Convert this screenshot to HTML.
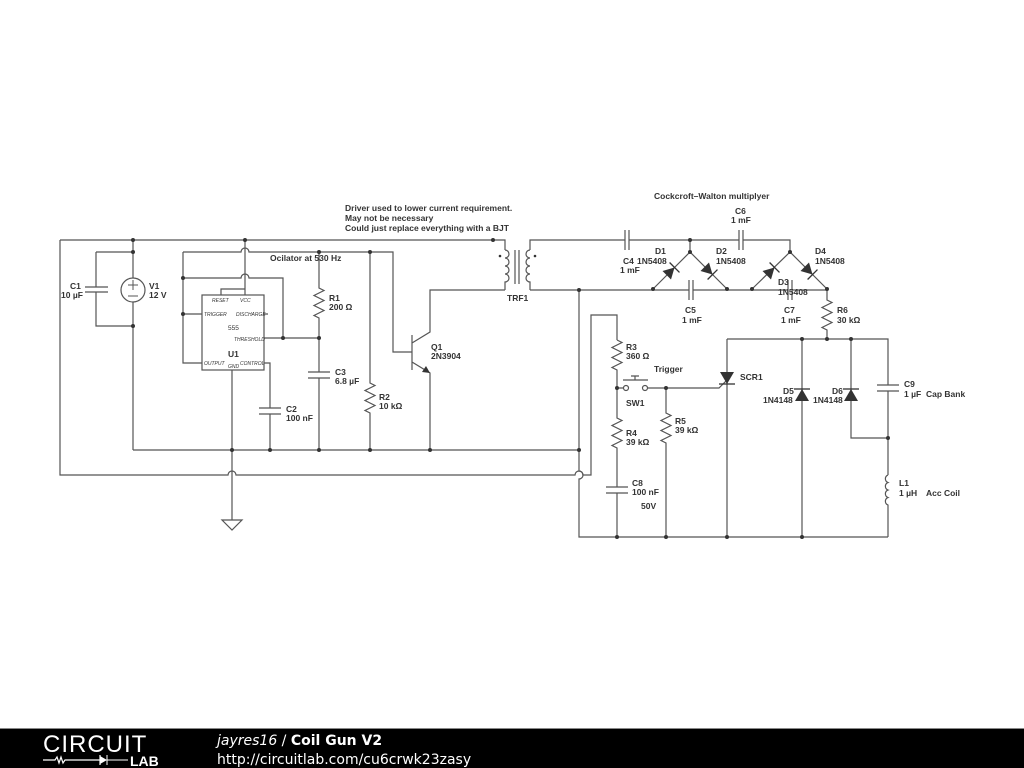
<!DOCTYPE html>
<html><head><meta charset="utf-8"><style>
html,body{margin:0;padding:0;background:#fff;width:1024px;height:768px;overflow:hidden}
svg text{font-family:"Liberation Sans",sans-serif;font-weight:bold;font-size:8.5px;fill:#333}
</style></head><body>
<svg width="1024" height="768" viewBox="0 0 1024 768" xmlns="http://www.w3.org/2000/svg">
<defs>
<g id="dio"><polygon points="-6,-6 -6,6 5,0" fill="#333"/><line x1="5" y1="-7" x2="5" y2="7" stroke="#333" stroke-width="1.3"/></g>
</defs>
<g stroke="#555" stroke-width="1.2" fill="none">
<path d="M60,240 H505 V250"/>
<path d="M60,240 V475 H228 a4,4 0 0 1 8,0 H575 a4,4 0 0 1 8,0 H591 V315 H617 V340"/>
<path d="M133,450 H579"/>
<path d="M96,252 H133 M96,252 V287 M96,292 V326 H133 M85,287 H108 M85,292 H108"/>
<path d="M133,240 V278 M133,302 V450"/>
<circle cx="133" cy="290" r="12"/>
<path d="M183,252 H241 a4,4 0 0 1 8,0 H393 V352 H412"/>
<path d="M183,252 V363 H202 M183,314 H202"/>
<path d="M183,278 H241 a4,4 0 0 1 8,0 H283 V338"/>
<path d="M245,240 V295 M221,295 V289 H245"/>
<rect x="202" y="295" width="62" height="75"/>
<path d="M264,338 H319 M264,314 H268 M264,363 H270 V408 M270,414 V450 M259,408 H281 M259,414 H281"/>
<path d="M232,370 V520 M222,520 H242 L232,530 Z"/>
<path d="M319,252 V288 l5,2.5 -10,5 10,5 -10,5 10,5 -10,5 5,2.5 V372 M319,378 V450 M308,372 H330 M308,378 H330"/>
<path d="M370,252 V383 l5,2.5 -10,5 10,5 -10,5 10,5 -10,5 5,2.5 V450"/>
<path d="M412,335 V370 M412,343 L430,332 V290 H505 M412,362 L430,373 V450"/>
<polygon points="430,373 422,372 426,366" fill="#333" stroke="none"/>
<path d="M505,250 a4,4 0 0 1 0,8 a4,4 0 0 1 0,8 a4,4 0 0 1 0,8 a4,4 0 0 1 0,8 V290"/>
<path d="M530,250 a4,4 0 0 0 0,8 a4,4 0 0 0 0,8 a4,4 0 0 0 0,8 a4,4 0 0 0 0,8 V290"/>
<path d="M515,250 V284 M519,250 V284 M530,250 V240 H625 M629,240 H739 M743,240 H790 V252 M690,240 V252"/>
<path d="M625,230 V250 M629,230 V250 M739,230 V250 M743,230 V250"/>
<path d="M530,290 H689 M693,290 H788 M792,290 H827 M579,290 V471 a4,4 0 0 1 0,8 V537 H888"/>
<path d="M689,280 V300 M693,280 V300 M788,280 V300 M792,280 V300"/>
<path d="M653,289 L690,252 L727,289 M752,289 L790,252 L827,289"/>
<path d="M827,289 V300 l5,2.5 -10,5 10,5 -10,5 10,5 -10,5 5,2.5 V339"/>
<path d="M727,339 H888 V385 M888,391 V475 M877,385 H899 M877,391 H899"/>
<path d="M888,475 a4,4 0 0 0 0,7.5 a4,4 0 0 0 0,7.5 a4,4 0 0 0 0,7.5 a4,4 0 0 0 0,7.5 V537"/>
<path d="M727,339 V537 M802,339 V537 M851,339 V438 H888"/>
<path d="M617,340 l5,2.5 -10,5 10,5 -10,5 10,5 -10,5 5,2.5 V418 l5,2.5 -10,5 10,5 -10,5 10,5 -10,5 5,2.5 V487 M617,493 V537 M606,487 H628 M606,493 H628"/>
<path d="M617,388 H623 M648,388 H719 L727,380 M623,380 H648 M635,380 V376 M631,376 H639"/>
<circle cx="626" cy="388" r="2.5" fill="#fff"/><circle cx="645" cy="388" r="2.5" fill="#fff"/>
<path d="M666,388 V413 l5,2.5 -10,5 10,5 -10,5 10,5 -10,5 5,2.5 V537"/>
</g>
<g fill="#333">
<polygon points="720,372 734,372 727,384"/><line x1="719" y1="384" x2="735" y2="384" stroke="#333" stroke-width="1.3"/>
<polygon points="795,401 809,401 802,389"/><line x1="794" y1="389" x2="810" y2="389" stroke="#333" stroke-width="1.3"/>
<polygon points="844,401 858,401 851,389"/><line x1="843" y1="389" x2="859" y2="389" stroke="#333" stroke-width="1.3"/>
<use href="#dio" transform="translate(671,271) rotate(-45)"/>
<use href="#dio" transform="translate(709,271) rotate(45)"/>
<use href="#dio" transform="translate(771,271) rotate(-45)"/>
<use href="#dio" transform="translate(809,271) rotate(45)"/>
<circle cx="500" cy="256" r="1.3"/><circle cx="535" cy="256" r="1.3"/>
<g>
<circle cx="133" cy="240" r="2"/><circle cx="245" cy="240" r="2"/><circle cx="493" cy="240" r="2"/>
<circle cx="133" cy="252" r="2"/><circle cx="133" cy="326" r="2"/><circle cx="319" cy="252" r="2"/><circle cx="370" cy="252" r="2"/>
<circle cx="183" cy="278" r="2"/><circle cx="183" cy="314" r="2"/>
<circle cx="283" cy="338" r="2"/><circle cx="319" cy="338" r="2"/>
<circle cx="232" cy="450" r="2"/><circle cx="270" cy="450" r="2"/><circle cx="319" cy="450" r="2"/><circle cx="370" cy="450" r="2"/><circle cx="430" cy="450" r="2"/><circle cx="579" cy="450" r="2"/>
<circle cx="579" cy="290" r="2"/><circle cx="690" cy="240" r="2"/><circle cx="690" cy="252" r="2"/><circle cx="790" cy="252" r="2"/>
<circle cx="653" cy="289" r="2"/><circle cx="727" cy="289" r="2"/><circle cx="752" cy="289" r="2"/><circle cx="827" cy="289" r="2"/>
<circle cx="802" cy="339" r="2"/><circle cx="827" cy="339" r="2"/><circle cx="851" cy="339" r="2"/><circle cx="888" cy="438" r="2"/>
<circle cx="617" cy="388" r="2"/><circle cx="666" cy="388" r="2"/>
<circle cx="617" cy="537" r="2"/><circle cx="666" cy="537" r="2"/><circle cx="727" cy="537" r="2"/><circle cx="802" cy="537" r="2"/>
</g>
</g>
<g stroke="#555" fill="none"><path d="M128,285 h10 M133,280 v10 M128,296 h10" stroke-width="1"/></g>
<text x="212" y="302" style="font-size:5px;font-weight:normal;font-style:italic">RESET</text>
<text x="240" y="302" style="font-size:5px;font-weight:normal;font-style:italic">VCC</text>
<text x="204" y="316" style="font-size:5px;font-weight:normal;font-style:italic">TRIGGER</text>
<text x="236" y="316" style="font-size:5px;font-weight:normal;font-style:italic">DISCHARGE</text>
<text x="228" y="330" style="font-size:6.5px;font-weight:normal">555</text>
<text x="234" y="341" style="font-size:5px;font-weight:normal;font-style:italic">THRESHOLD</text>
<text x="204" y="365" style="font-size:5px;font-weight:normal;font-style:italic">OUTPUT</text>
<text x="228" y="368" style="font-size:5px;font-weight:normal;font-style:italic">GND</text>
<text x="240" y="365" style="font-size:5px;font-weight:normal;font-style:italic">CONTROL</text>
<text x="228" y="357">U1</text>
<text x="70" y="289">C1</text><text x="61" y="298">10 µF</text>
<text x="149" y="289">V1</text><text x="149" y="298">12 V</text>
<text x="270" y="261">Ocilator at 530 Hz</text>
<text x="329" y="301">R1</text><text x="329" y="310">200 Ω</text>
<text x="335" y="375">C3</text><text x="335" y="384">6.8 µF</text>
<text x="286" y="412">C2</text><text x="286" y="421">100 nF</text>
<text x="379" y="400">R2</text><text x="379" y="409">10 kΩ</text>
<text x="431" y="350">Q1</text><text x="431" y="359">2N3904</text>
<text x="345" y="211">Driver used to lower current requirement.</text>
<text x="345" y="221">May not be necessary</text>
<text x="345" y="231">Could just replace everything with a BJT</text>
<text x="507" y="301">TRF1</text>
<text x="654" y="199">Cockcroft–Walton multiplyer</text>
<text x="735" y="214">C6</text><text x="731" y="223">1 mF</text>
<text x="655" y="254">D1</text><text x="637" y="264">1N5408</text>
<text x="623" y="264">C4</text><text x="620" y="273">1 mF</text>
<text x="716" y="254">D2</text><text x="716" y="264">1N5408</text>
<text x="815" y="254">D4</text><text x="815" y="264">1N5408</text>
<text x="778" y="285">D3</text><text x="778" y="295">1N5408</text>
<text x="685" y="313">C5</text><text x="682" y="323">1 mF</text>
<text x="784" y="313">C7</text><text x="781" y="323">1 mF</text>
<text x="837" y="313">R6</text><text x="837" y="323">30 kΩ</text>
<text x="626" y="350">R3</text><text x="626" y="359">360 Ω</text>
<text x="654" y="372">Trigger</text>
<text x="626" y="406">SW1</text>
<text x="740" y="380">SCR1</text>
<text x="783" y="394">D5</text><text x="763" y="403">1N4148</text>
<text x="832" y="394">D6</text><text x="813" y="403">1N4148</text>
<text x="904" y="387">C9</text><text x="904" y="397">1 µF</text><text x="926" y="397">Cap Bank</text>
<text x="675" y="424">R5</text><text x="675" y="433">39 kΩ</text>
<text x="626" y="436">R4</text><text x="626" y="445">39 kΩ</text>
<text x="632" y="486">C8</text><text x="632" y="495">100 nF</text><text x="641" y="509">50V</text>
<text x="899" y="486">L1</text><text x="899" y="496">1 µH</text><text x="926" y="496">Acc Coil</text>
<rect x="0" y="729" width="1024" height="39" fill="#000"/>
<rect x="0" y="728" width="1024" height="1" fill="#888"/>
<text x="43" y="752" style="font-size:24px;font-weight:normal;fill:#fff;letter-spacing:1px">CIRCUIT</text>
<text x="130" y="766" style="font-size:14px;font-weight:bold;fill:#fff">LAB</text>
<path d="M43,760 H55 l2,-3 2,6 2,-6 2,6 2,-3 H100 M100,755 V765" stroke="#fff" stroke-width="1.2" fill="none"/>
<polygon points="100,756 100,764 107,760" fill="#fff"/><line x1="107" y1="755" x2="107" y2="765" stroke="#fff"/><line x1="107" y1="760" x2="128" y2="760" stroke="#fff"/>
<text x="217" y="745" style="font-family:'DejaVu Sans',sans-serif;font-size:14px;font-weight:normal;fill:#fff"><tspan font-style="italic">jayres16</tspan> / <tspan font-weight="bold">Coil Gun V2</tspan></text>
<text x="217" y="764" style="font-family:'DejaVu Sans',sans-serif;font-size:14px;font-weight:normal;fill:#fff">http://circuitlab.com/cu6crwk23zasy</text>
</svg>
</body></html>
